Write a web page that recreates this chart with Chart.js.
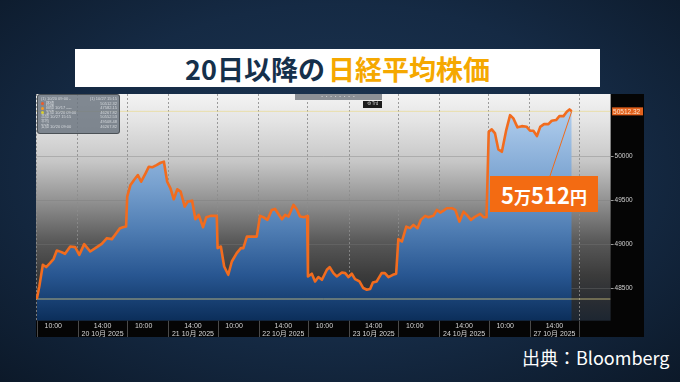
<!DOCTYPE html>
<html>
<head>
<meta charset="utf-8">
<script src="https://cdn.jsdelivr.net/npm/chart.js@4.4.1/dist/chart.umd.min.js"></script>
<style>
html,body{margin:0;padding:0;}
body{width:680px;height:382px;overflow:hidden;position:relative;
  background:radial-gradient(ellipse 75% 80% at 50% 45%, #1d3755 0%, #152a44 55%, #0b1726 100%);
  font-family:"Noto Sans CJK JP","Noto Sans",sans-serif;}
#title{position:absolute;left:75px;top:49px;width:525px;height:38px;background:#fff;
  text-align:center;font-weight:700;font-size:27px;line-height:40px;color:#15304b;white-space:nowrap;}
#title .hl{color:#f5a800;margin-left:3px;}
#wrap{position:absolute;left:36px;top:94px;width:608px;height:243px;}
#chart{position:absolute;left:0;top:0;}
#legendBox{position:absolute;left:1px;top:0px;width:83px;height:40px;background:rgba(108,118,128,0.85);
  border:1px solid rgba(70,75,80,0.9);border-radius:3px;box-sizing:border-box;padding:2px 2px 0 3px;
  font-family:"Liberation Sans","Noto Sans CJK JP",sans-serif;font-size:4px;line-height:4.6px;color:#d4d8dc;}
#legendBox .row{display:flex;justify-content:space-between;white-space:nowrap;}
#legendBox .dot{display:inline-block;width:3px;height:3px;border-radius:50%;margin-right:2px;vertical-align:middle;}
#toolbar{position:absolute;left:259px;top:0px;width:87px;height:6px;background:#8c9096;
  font-family:"Liberation Sans",sans-serif;font-size:4px;line-height:6px;color:#d0d0d0;text-align:center;letter-spacing:1px;}
#trd{position:absolute;left:327px;top:7px;width:19px;height:6.5px;background:#1c1c1c;
  font-family:"Liberation Sans",sans-serif;font-size:4.5px;line-height:6.5px;color:#c8c8c8;text-align:center;}
#callout{position:absolute;left:490px;top:176px;width:108px;height:36px;background:#f36b12;color:#fff;
  font-weight:700;text-align:center;line-height:36px;white-space:nowrap;}
#callout .n{font-size:22px;}
#callout .k{font-size:17px;}
#source{position:absolute;left:522px;top:347px;color:#fff;font-size:18px;line-height:20px;white-space:nowrap;}
</style>
</head>
<body>
<div id="title">20日以降の<span class="hl">日経平均株価</span></div>
<div id="wrap">
  <canvas id="chart" width="608" height="243"></canvas>
  <div id="legendBox">
    <div class="row"><span>(1) 10/20 09:00 -</span><span>(1) 10/27 15:15</span></div>
    <div class="row"><span><i class="dot" style="background:#f05a28"></i>終値</span><span>50512.32</span></div>
    <div class="row"><span><i class="dot" style="background:#f59a20"></i>始値 10/17 ----</span><span>47582.15</span></div>
    <div class="row"><span><i class="dot" style="background:#d8d030"></i>安値 10/20 09:00</span><span>46267.82</span></div>
    <div class="row"><span>高値 10/27 15:15</span><span>50552.53</span></div>
    <div class="row"><span>平均</span><span>49508.48</span></div>
    <div class="row"><span>安値 10/20 09:00</span><span>46267.82</span></div>
  </div>
  <div id="toolbar">▪ ▪ ▪ ▪ ▪ ▪ ▪ ▪</div>
  <div id="trd">⚙ Trd</div>
</div>
<div id="callout"><span class="n">5</span><span class="k">万</span><span class="n">512</span><span class="k">円</span></div>
<div id="source">出典：Bloomberg</div>

<script>
// ---- data (trading minutes from 09:00 within each session, price) ----
const days = ['20', '21', '22', '23', '24', '27'];
const monthYear = '10月 2025';
const sessionLength = 330;          // trading minutes per day
const gridMinutes = [0, 150];       // session open / afternoon
const labelMinutes = [60, 240];     // 10:00 / 14:00
const labelTimes = ['10:00', '14:00'];
const yTicks = [48500, 49000, 49500, 50000];
const baseLevel = 48375;
const lastPrice = 50512.32;

const oct20 = [[0,48375],[9,48518],[22,48765],[34,48739],[48,48784],[61,48830],[73,48927],[88,48912],[103,48890],[122,48973],[140,48966],[155,48878],[173,49000],[195,48916],[219,48966],[237,49003],[256,49068],[274,49057],[290,49125],[304,49182],[314,49193],[326,49200]];
const oct21 = [[0,49541],[12,49674],[27,49739],[39,49787],[51,49711],[67,49807],[79,49882],[91,49875],[107,49901],[122,49927],[134,49939],[146,49711],[158,49636],[170,49511],[183,49625],[195,49598],[210,49427],[221,49484],[237,49495],[249,49284],[261,49333],[277,49193],[289,49307],[304,49322],[319,49322],[327,49322]];
const oct22 = [[0,48955],[12,48973],[24,48745],[39,48651],[52,48802],[70,48898],[85,48955],[94,48955],[107,49086],[125,49086],[143,49086],[155,49322],[167,49307],[182,49276],[198,49390],[210,49401],[222,49344],[235,49284],[247,49333],[259,49314],[277,49447],[289,49398],[301,49314],[316,49307],[327,49320]];
const oct23 = [[0,48632],[14,48663],[26,48575],[38,48625],[51,48594],[69,48708],[79,48739],[93,48670],[105,48632],[124,48677],[136,48670],[148,48625],[160,48663],[172,48602],[188,48575],[202,48500],[215,48481],[227,48489],[237,48564],[251,48575],[269,48670],[281,48670],[294,48625],[310,48651],[322,48663]];
const oct24 = [[0,49057],[13,49030],[29,49200],[43,49182],[55,49219],[70,49182],[82,49276],[98,49322],[110,49307],[128,49322],[141,49390],[153,49359],[165,49382],[177,49409],[196,49409],[208,49390],[223,49257],[238,49370],[250,49333],[265,49276],[281,49314],[299,49344],[311,49307],[322,49307]];
const oct27 = [[0,50280],[11,50307],[23,50261],[35,50080],[48,50052],[64,50299],[78,50469],[90,50432],[105,50330],[121,50344],[139,50336],[151,50291],[163,50291],[176,50231],[188,50336],[202,50367],[218,50367],[230,50405],[246,50413],[258,50458],[273,50458],[285,50507],[295,50534],[303,50512.32]];
const sessions = [oct20, oct21, oct22, oct23, oct24, oct27];

// ---- build ----
const xMin = -3, xMax = 2095, yMin = 48128, yMax = 50710;
const series = [];
sessions.forEach((s, i) => s.forEach(([m, v]) => series.push({x: i * sessionLength + m, y: v})));

const gridValues = [];
const labelValues = [];
for (let k = 0; k <= days.length; k++) {
  gridMinutes.forEach(g => { const v = k * sessionLength + g; if (v >= xMin && v <= xMax) gridValues.push(v); });
  if (k < days.length) labelMinutes.forEach(l => labelValues.push(k * sessionLength + l));
}
const allXTicks = gridValues.concat(labelValues).sort((a, b) => a - b);

const chartBg = {
  id: 'chartBg',
  beforeDraw(chart) {
    const {ctx, chartArea: a, width, height} = chart;
    ctx.save();
    ctx.fillStyle = '#050505';
    ctx.fillRect(0, 0, width, height);
    const g = ctx.createLinearGradient(0, a.top, 0, a.bottom);
    g.addColorStop(0, '#f3f3f3');
    g.addColorStop(0.12, '#e4e4e4');
    g.addColorStop(0.3, '#c6c6c6');
    g.addColorStop(0.48, '#8f8f8f');
    g.addColorStop(0.65, '#595959');
    g.addColorStop(0.8, '#3b3b3b');
    g.addColorStop(0.9, '#2b2e33');
    g.addColorStop(1, '#1d2631');
    ctx.fillStyle = g;
    ctx.fillRect(a.left, a.top, a.right - a.left, a.bottom - a.top);
    ctx.restore();
  },
  afterDraw(chart) {
    const {ctx, chartArea: a, width, height, scales} = chart;
    ctx.save();
    // separators in time band
    ctx.strokeStyle = '#4a4a4a';
    ctx.lineWidth = 1;
    gridValues.forEach(v => {
      const x = Math.round(scales.x.getPixelForValue(v)) + 0.5;
      ctx.beginPath(); ctx.moveTo(x, a.bottom); ctx.lineTo(x, height); ctx.stroke();
    });
    // last price tag
    const y = scales.y.getPixelForValue(lastPrice);
    ctx.fillStyle = '#e2611c';
    ctx.fillRect(a.right + 1.5, y - 4, width - a.right - 2.5, 8);
    ctx.fillStyle = '#fde2cc';
    ctx.font = '6.5px "Liberation Sans", sans-serif';
    ctx.textBaseline = 'middle';
    ctx.fillText(lastPrice.toFixed(2), a.right + 2.5, y + 0.5);
    // callout connector
    const last = series[series.length - 1];
    const px = scales.x.getPixelForValue(last.x), py = scales.y.getPixelForValue(last.y);
    ctx.strokeStyle = '#f06a1a';
    ctx.lineWidth = 1;
    ctx.beginPath(); ctx.moveTo(550 - 36, 176 - 94); ctx.lineTo(px, py); ctx.stroke();
    ctx.restore();
  }
};

const fillGradient = (c) => {
  const chart = c.chart, a = chart.chartArea;
  if (!a) return '#5a88bb';
  const g = chart.ctx.createLinearGradient(0, a.top, 0, a.bottom);
  g.addColorStop(0, '#bcd5ef');
  g.addColorStop(0.15, '#a4c4e7');
  g.addColorStop(0.4, '#78a1cf');
  g.addColorStop(0.6, '#4f7db3');
  g.addColorStop(0.8, '#285691');
  g.addColorStop(1, '#0b2e5a');
  return g;
};

new Chart(document.getElementById('chart'), {
  type: 'line',
  data: {
    datasets: [
      {data: series, borderColor: '#f26c1e', borderWidth: 2.6, pointRadius: 0, tension: 0,
       fill: 'start', backgroundColor: fillGradient, order: 0, borderJoinStyle: 'round'},
      {data: [{x: xMin, y: baseLevel}, {x: xMax, y: baseLevel}], borderColor: 'rgba(214,200,130,0.8)',
       borderWidth: 1, pointRadius: 0, fill: false, order: 1},
      {data: [{x: xMin, y: lastPrice}, {x: xMax, y: lastPrice}], borderColor: 'rgba(232,218,150,0.75)',
       borderWidth: 1, pointRadius: 0, fill: false, order: 1}
    ]
  },
  options: {
    responsive: false,
    animation: false,
    devicePixelRatio: 1,
    layout: {padding: 0},
    plugins: {legend: {display: false}, tooltip: {enabled: false}, filler: {drawTime: 'beforeDatasetsDraw'}},
    scales: {
      x: {
        type: 'linear', min: xMin, max: xMax,
        afterBuildTicks: s => { s.ticks = allXTicks.map(v => ({value: v})); },
        afterFit: s => { s.height = 16.3; s.paddingLeft = 0; s.paddingRight = 0; },
        grid: {
          color: c => (c.tick && gridValues.includes(c.tick.value)) ? 'rgba(140,140,140,0.85)' : 'rgba(0,0,0,0)',
          lineWidth: 1, drawTicks: false
        },
        border: {display: false, dash: [2, 2]},
        ticks: {
          autoSkip: false, maxRotation: 0, minRotation: 0, padding: 2,
          color: '#d6d6d6',
          font: {family: '"Liberation Sans", "Noto Sans CJK JP", sans-serif', size: 7, lineHeight: 1.1},
          callback: (v) => {
            const k = Math.floor(v / sessionLength), m = v - k * sessionLength;
            const li = labelMinutes.indexOf(m);
            if (li < 0 || k >= days.length) return '';
            return li === 0 ? labelTimes[0] : [labelTimes[1], days[k] + ' ' + monthYear];
          }
        }
      },
      y: {
        type: 'linear', position: 'right', min: yMin, max: yMax,
        afterBuildTicks: s => { s.ticks = yTicks.map(v => ({value: v})); },
        afterFit: s => { s.width = 33.4; s.paddingTop = 0; s.paddingBottom = 0; },
        grid: {color: 'rgba(120,120,120,0.35)', lineWidth: 1, tickLength: 3, tickColor: '#9a9a9a'},
        border: {display: false},
        ticks: {
          padding: 1, color: '#cfcfcf',
          font: {family: '"Liberation Sans", sans-serif', size: 6.5},
          callback: v => String(v)
        }
      }
    }
  },
  plugins: [chartBg]
});
</script>
</body>
</html>
